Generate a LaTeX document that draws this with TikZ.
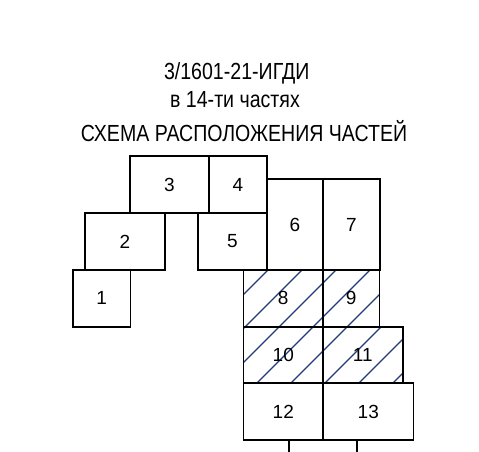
\documentclass[tikz,border=0pt]{standalone}
\usepackage{fontspec}
\setmainfont{Liberation Sans}
\newfontfamily\titlefont[FakeStretch=0.84]{Liberation Sans}
\usetikzlibrary{fit}
\definecolor{hatchblue}{HTML}{203A78}
\begin{document}
\begin{tikzpicture}[x=1pt,y=-1pt,
  partbox/.style={draw=black, line width=1.9pt, inner sep=0pt, rectangle,
    label={[inner sep=0pt, font=\fontsize{19}{21}\selectfont]center:#1}},
  titletext/.style={anchor=base, inner sep=0pt, font=\titlefont\fontsize{23.3}{26}\selectfont},
  hatchline/.style={draw=hatchblue, line width=1.3pt},
  stub/.style={draw=black, line width=1.9pt}]
\useasboundingbox[fill=white] (0,0) rectangle (479,451);

% title
\node[titletext] (t1) at (236.7,79) {3/1601-21-ИГДИ};
\node[titletext] (t2) at (235,107) {в 14-ти частях};
\node[titletext] (t3) at (244,141) {СХЕМА РАСПОЛОЖЕНИЯ ЧАСТЕЙ};

% hatching of parts 8-11
\begin{scope}
  \clip (243.5,270) -- (379.5,270) -- (379.5,326.7) -- (402.7,326.7)
        -- (402.7,383.3) -- (243.5,383.3) -- cycle;
  \foreach \c in {538,572,606,640,674,708,742,776}
    \draw[hatchline] (\c-250,250) -- (\c-400,400);
\end{scope}

% parts
\node[partbox=1, fit={(73,270) (130.5,326.7)}] (b1) {};
\node[partbox=2, fit={(85,213) (165,270)}] (b2) {};
\node[partbox=3, fit={(130,156) (209,213)}] (b3) {};
\node[partbox=4, fit={(209,156) (266.7,213)}] (b4) {};
\node[partbox=5, fit={(198.3,213) (266.7,270)}] (b5) {};
\node[partbox=6, fit={(266.7,179.3) (323,270)}] (b6) {};
\node[partbox=7, fit={(323,179.3) (380,270)}] (b7) {};
\node[partbox=8, fit={(243.5,270) (323,326.7)}] (b8) {};
\node[partbox=9, fit={(323,270) (379.5,326.7)}] (b9) {};
\node[partbox=10, fit={(243.5,326.7) (323,383.3)}] (b10) {};
\node[partbox=11, fit={(323,326.7) (402.7,383.3)}] (b11) {};
\node[partbox=12, fit={(243.5,383.3) (323,440)}] (b12) {};
\node[partbox=13, fit={(323,383.3) (413.5,440)}] (b13) {};

% top of part 14 (cut off)
\coordinate (s1) at (289.3,453);
\coordinate (s2) at (356.7,453);
\draw[stub] (b12.south -| s1) -- (s1);
\draw[stub] (b13.south -| s2) -- (s2);
\end{tikzpicture}
\end{document}
